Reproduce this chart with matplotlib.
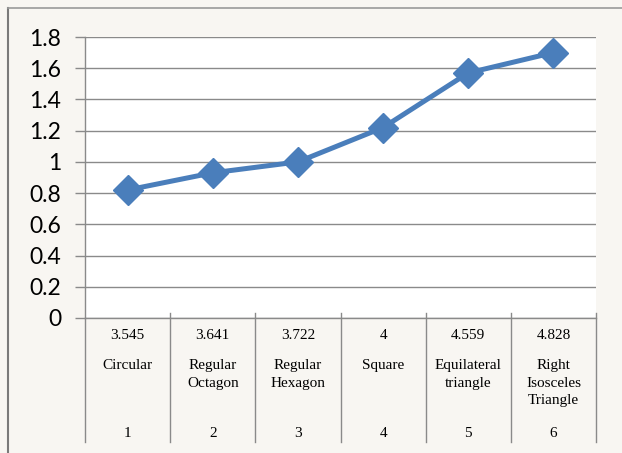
import matplotlib
matplotlib.use("Agg")
import matplotlib.pyplot as plt
from matplotlib.lines import Line2D
import matplotlib.transforms as mtransforms

# Data
positions = [1, 2, 3, 4, 5, 6]
ratios = [0.82, 0.93, 1.00, 1.22, 1.57, 1.70]
perimeters = ["3.545", "3.641", "3.722", "4", "4.559", "4.828"]
shapes = ["Circular", "Regular\nOctagon", "Regular\nHexagon", "Square",
          "Equilateral\ntriangle", "Right\nIsosceles\nTriangle"]
yticks = [0, 0.2, 0.4, 0.6, 0.8, 1, 1.2, 1.4, 1.6, 1.8]
ytick_labels = ["0", "0.2", "0.4", "0.6", "0.8", "1", "1.2", "1.4", "1.6", "1.8"]

W, H = 622, 453
bg = "#f8f6f2"
grid_c = "#8a8a8a"
blue = "#4a7ebb"

fig = plt.figure(figsize=(W / 100, H / 100), dpi=100, facecolor=bg)

x0, x1, ytop, ybot = 85, 596, 37, 318
ax = fig.add_axes([x0 / W, 1 - ybot / H, (x1 - x0) / W, (ybot - ytop) / H])
ax.set_facecolor("white")
ax.set_xlim(0.5, 6.5)
ax.set_ylim(0, 1.8)

for s in ["top", "right"]:
    ax.spines[s].set_visible(False)
ax.spines["bottom"].set_color(grid_c)
ax.spines["left"].set_color(grid_c)
ax.spines["bottom"].set_linewidth(1)
ax.spines["left"].set_linewidth(1)

ax.set_yticks(yticks)
ax.set_yticklabels(ytick_labels, fontfamily="Lato", fontsize=16.5)
ax.tick_params(axis="y", direction="out", length=7, width=1, color=grid_c, pad=10)
ax.set_xticks([])
ax.yaxis.grid(True, color=grid_c, linewidth=1)
ax.set_axisbelow(True)

ax.plot(positions, ratios, color=blue, linewidth=3.6, marker="D",
        markersize=15, markerfacecolor=blue, markeredgecolor=blue,
        clip_on=False, zorder=5)

# Table below axis
trans = mtransforms.blended_transform_factory(ax.transData, ax.transAxes)
bounds = [0.5 + i for i in range(7)]
for b in bounds:
    ax.plot([b, b], [0.018 if b > 0.5 else 0, -0.443], transform=trans,
            color=grid_c, linewidth=1, clip_on=False)

serif = "Liberation Serif"
for p, per, sh in zip(positions, perimeters, shapes):
    ax.text(p, -0.062, per, transform=trans, ha="center", va="center",
            fontfamily=serif, fontsize=11)
    ax.text(p, -0.146, sh, transform=trans, ha="center", va="top",
            fontfamily=serif, fontsize=11, linespacing=1.45)
    ax.text(p, -0.41, str(p), transform=trans, ha="center", va="center",
            fontfamily=serif, fontsize=11)

# Outer frame lines
fig.add_artist(Line2D([8 / W, 8 / W], [0, 1 - 8 / H], transform=fig.transFigure,
                      color="#7a7a7a", linewidth=1.5))
fig.add_artist(Line2D([8 / W, 1], [1 - 8 / H, 1 - 8 / H], transform=fig.transFigure,
                      color="#9a9a9a", linewidth=1.2))

fig.savefig("out.png", dpi=100, facecolor=bg)
